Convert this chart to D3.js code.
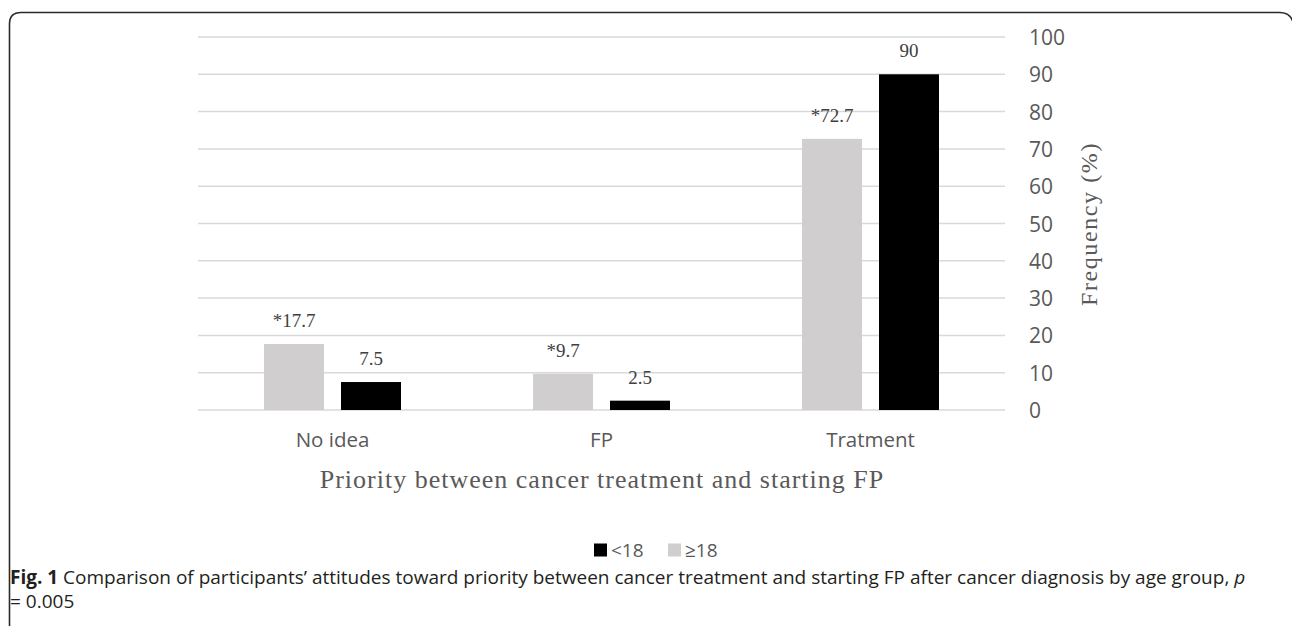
<!DOCTYPE html>
<html><head><meta charset="utf-8">
<script src="https://cdn.jsdelivr.net/npm/d3@7"></script>
<style>
html,body{margin:0;padding:0;background:#fff;}
svg{display:block;}
</style></head>
<body>
<svg id="chart" width="1292" height="626"></svg>
<script>
const categories = ["No idea", "FP", "Tratment"];
const seriesNames = ["≥18", "<18"];
const valuesAdult = [17.7, 9.7, 72.7];   // ≥18
const valuesChild = [7.5, 2.5, 90];      // <18
const labelsAdult = ["*17.7", "*9.7", "*72.7"];
const labelsChild = ["7.5", "2.5", "90"];
const yTicks = [0,10,20,30,40,50,60,70,80,90,100];
const legendOrder = ["<18", "≥18"];

const colors = {"≥18": "#d0cece", "<18": "#000000"};
const svg = d3.select("#chart");

// border
svg.append("path")
  .attr("d", "M9.5,640 L9.5,24 Q9.5,12.5 21,12.5 L1280,12.5 Q1290,12.5 1293,22")
  .attr("fill","none").attr("stroke","#2b2b2b").attr("stroke-width",1.6);

const x0 = d3.scaleBand().domain(categories).range([198,1005]).paddingInner(0).paddingOuter(0);
const y = d3.scaleLinear().domain([0,100]).range([410,37]);

// grid
svg.append("g").selectAll("line").data(yTicks).join("line")
  .attr("x1",198).attr("x2",1005)
  .attr("y1",d=>y(d)).attr("y2",d=>y(d))
  .attr("stroke","#d9d9d9").attr("stroke-width",1.5);

// y axis on right
const yAxis = d3.axisRight(y).tickValues(yTicks).tickSize(0).tickPadding(0);
const gy = svg.append("g").attr("transform","translate(1029,0)").call(yAxis);
gy.select(".domain").remove();
gy.selectAll("text").attr("fill","#595959").attr("font-family","'Open Sans', sans-serif").attr("font-size","21px").attr("dy","0.36em");

// x axis labels
const xAxis = d3.axisBottom(x0).tickSize(0).tickPadding(0);
const gx = svg.append("g").attr("transform","translate(0,430)").call(xAxis);
gx.select(".domain").remove();
gx.selectAll("text").attr("fill","#595959").attr("font-family","'Open Sans', sans-serif").attr("font-size","20.5px").attr("dy","0.85em");

const barW = 60, gap = 17;
const offs = [-(gap/2+barW), gap/2];
const series = [
  {name:"≥18", vals: valuesAdult, labels: labelsAdult},
  {name:"<18", vals: valuesChild, labels: labelsChild}
];
series.forEach((s,si)=>{
  const g = svg.append("g");
  g.selectAll("rect").data(categories).join("rect")
    .attr("x",(c)=>x0(c)+x0.bandwidth()/2+offs[si])
    .attr("width",barW)
    .attr("y",(c,i)=>y(s.vals[i]))
    .attr("height",(c,i)=>y(0)-y(s.vals[i]))
    .attr("fill",colors[s.name]);
  g.selectAll("text").data(categories).join("text")
    .attr("x",(c)=>x0(c)+x0.bandwidth()/2+offs[si]+barW/2)
    .attr("y",(c,i)=>y(s.vals[i])-17)
    .attr("text-anchor","middle")
    .attr("font-family","'Liberation Serif', serif").attr("font-size","19px")
    .attr("fill","#404040")
    .text((c,i)=>s.labels[i]);
});

// axis titles
svg.append("text").attr("x",602).attr("y",488).attr("text-anchor","middle")
  .attr("font-family","'Liberation Serif', serif").attr("font-size","26px").attr("fill","#595959")
  .attr("letter-spacing","1px")
  .text("Priority between cancer treatment and starting FP");
svg.append("text").attr("transform","translate(1097,224) rotate(-90)").attr("text-anchor","middle")
  .attr("font-family","'Liberation Serif', serif").attr("font-size","24px").attr("fill","#595959")
  .attr("letter-spacing","1.6px")
  .text("Frequency (%)");

// legend
const lg = svg.append("g").attr("transform","translate(594,550)");
let lx = 0;
legendOrder.forEach(n=>{
  lg.append("rect").attr("x",lx).attr("y",-6.5).attr("width",13).attr("height",13).attr("fill",colors[n]);
  lg.append("text").attr("x",lx+17).attr("y",0).attr("dy","0.36em")
    .attr("font-family","'Open Sans', sans-serif").attr("font-size","19px").attr("fill","#595959").text(n);
  lx += 74;
});

// caption
const cap = svg.append("text").attr("x",10).attr("y",584)
  .attr("font-family","'Open Sans', sans-serif").attr("font-size","19px").attr("fill","#231f20");
cap.append("tspan").attr("font-weight","bold").text("Fig. 1");
cap.append("tspan").text(" Comparison of participants’ attitudes toward priority between cancer treatment and starting FP after cancer diagnosis by age group, ");
cap.append("tspan").attr("font-style","italic").text("p");
svg.append("text").attr("x",10).attr("y",608)
  .attr("font-family","'Open Sans', sans-serif").attr("font-size","19px").attr("fill","#231f20")
  .text("= 0.005");
</script>
</body></html>
